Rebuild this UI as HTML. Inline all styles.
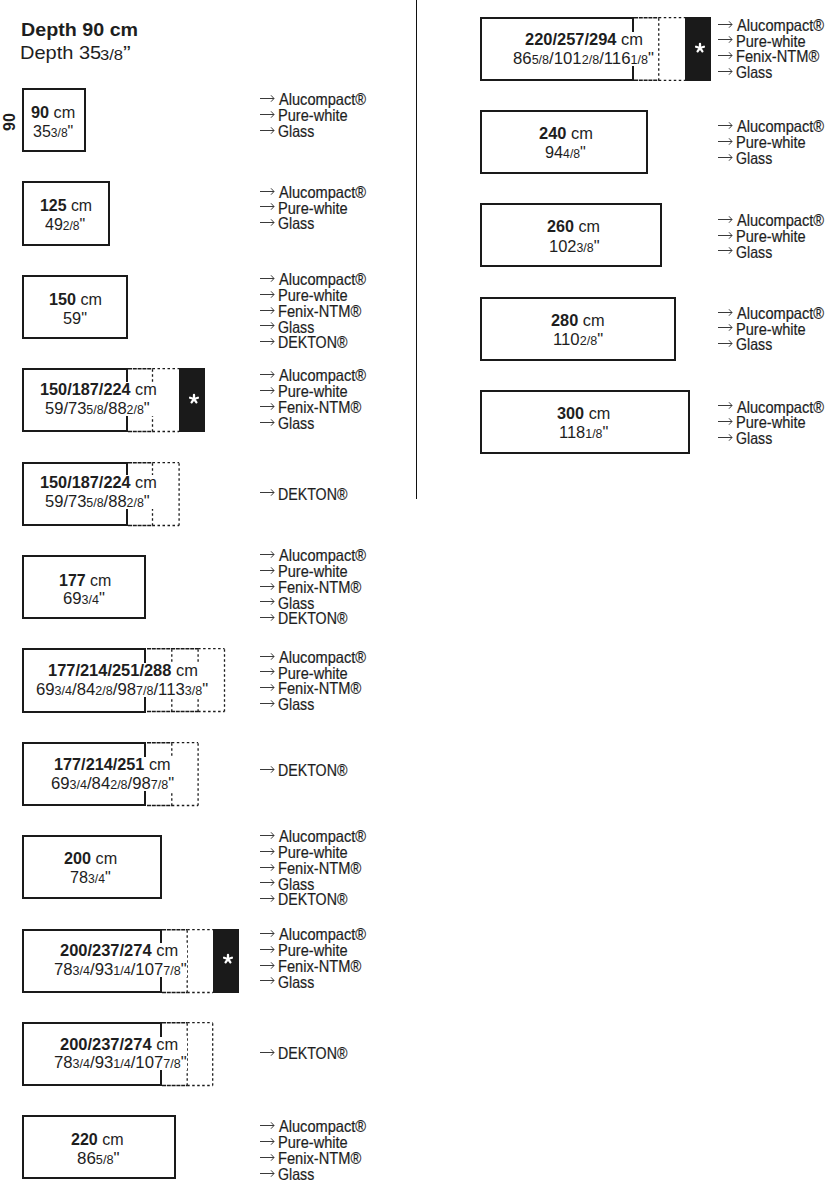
<!DOCTYPE html>
<html><head><meta charset="utf-8"><style>
html,body{margin:0;padding:0;background:#fff;}
body{width:836px;height:1186px;position:relative;overflow:hidden;font-family:"Liberation Sans",sans-serif;color:#1e1e1e;}
.bx{position:absolute;box-sizing:border-box;border:2px solid #1a1a1a;}
.dh{position:absolute;height:0;border-top:1.5px dashed #1a1a1a;}
.dv{position:absolute;width:0;border-left:1.5px dashed #1a1a1a;}
.wb{position:absolute;background:#fff;}
.blk{position:absolute;background:#1a1a1a;}
.ast,.ar,.ln{position:absolute;display:block;}
.t,.o,.hb{position:absolute;white-space:nowrap;transform-origin:0 0;}
.o{-webkit-text-stroke:0.2px #1e1e1e;}
.hb{font-weight:bold;}
small{font-size:75%;}
.rot{position:absolute;font-size:16px;font-weight:bold;line-height:16px;transform:rotate(-90deg);transform-origin:0 0;}
.vl{position:absolute;left:415.5px;top:0;width:1.5px;height:499px;background:#111;}
</style></head><body>
<div class="vl"></div>
<div class="rot" style="left:2px;top:131px">90</div>
<div class="bx" style="left:22.1px;top:88.1px;width:64.40px;height:64.2px"></div>
<div class="wb" style="left:30.7px;top:105.4px;width:45.7px;height:33.5px"></div>
<div class="t" style="left:31.18px;top:105.46px;font-size:16px;line-height:16px;transform:scaleX(1.0167)"><b>90</b> cm</div>
<div class="t" style="left:32.60px;top:124.26px;font-size:16px;line-height:16px;transform:scaleX(1.0026)">35<small>3/8</small>"</div>
<svg class="ar" style="left:260px;top:94px" width="15" height="9" viewBox="0 0 15 9"><path d="M0 4.5H14M11 1.3L14 4.5L11 7.7" fill="none" stroke="#3a3a3a" stroke-width="1"/></svg>
<div class="o" style="left:278.80px;top:91.33px;font-size:16.5px;line-height:16.5px;transform:scaleX(0.8857)">Alucompact&reg;</div>
<svg class="ar" style="left:260px;top:110px" width="15" height="9" viewBox="0 0 15 9"><path d="M0 4.5H14M11 1.3L14 4.5L11 7.7" fill="none" stroke="#3a3a3a" stroke-width="1"/></svg>
<div class="o" style="left:277.92px;top:107.13px;font-size:16.5px;line-height:16.5px;transform:scaleX(0.8831)">Pure-white</div>
<svg class="ar" style="left:260px;top:126px" width="15" height="9" viewBox="0 0 15 9"><path d="M0 4.5H14M11 1.3L14 4.5L11 7.7" fill="none" stroke="#3a3a3a" stroke-width="1"/></svg>
<div class="o" style="left:277.94px;top:122.93px;font-size:16.5px;line-height:16.5px;transform:scaleX(0.8585)">Glass</div>
<div class="bx" style="left:22.1px;top:181.48px;width:88.00px;height:64.2px"></div>
<div class="wb" style="left:39.0px;top:198.1px;width:53.6px;height:34.0px"></div>
<div class="t" style="left:39.51px;top:198.16px;font-size:16px;line-height:16px;transform:scaleX(0.9922)"><b>125</b> cm</div>
<div class="t" style="left:45.20px;top:217.46px;font-size:16px;line-height:16px;transform:scaleX(1.0025)">49<small>2/8</small>"</div>
<svg class="ar" style="left:260px;top:187px" width="15" height="9" viewBox="0 0 15 9"><path d="M0 4.5H14M11 1.3L14 4.5L11 7.7" fill="none" stroke="#3a3a3a" stroke-width="1"/></svg>
<div class="o" style="left:278.80px;top:183.83px;font-size:16.5px;line-height:16.5px;transform:scaleX(0.8857)">Alucompact&reg;</div>
<svg class="ar" style="left:260px;top:202px" width="15" height="9" viewBox="0 0 15 9"><path d="M0 4.5H14M11 1.3L14 4.5L11 7.7" fill="none" stroke="#3a3a3a" stroke-width="1"/></svg>
<div class="o" style="left:277.92px;top:199.63px;font-size:16.5px;line-height:16.5px;transform:scaleX(0.8831)">Pure-white</div>
<svg class="ar" style="left:260px;top:218px" width="15" height="9" viewBox="0 0 15 9"><path d="M0 4.5H14M11 1.3L14 4.5L11 7.7" fill="none" stroke="#3a3a3a" stroke-width="1"/></svg>
<div class="o" style="left:277.94px;top:215.43px;font-size:16.5px;line-height:16.5px;transform:scaleX(0.8585)">Glass</div>
<div class="bx" style="left:22.1px;top:274.86px;width:105.90px;height:64.2px"></div>
<div class="wb" style="left:48.2px;top:292.1px;width:54.5px;height:33.5px"></div>
<div class="t" style="left:48.69px;top:292.16px;font-size:16px;line-height:16px;transform:scaleX(1.0098)"><b>150</b> cm</div>
<div class="t" style="left:62.68px;top:310.96px;font-size:16px;line-height:16px;transform:scaleX(1.0227)">59"</div>
<svg class="ar" style="left:260px;top:274px" width="15" height="9" viewBox="0 0 15 9"><path d="M0 4.5H14M11 1.3L14 4.5L11 7.7" fill="none" stroke="#3a3a3a" stroke-width="1"/></svg>
<div class="o" style="left:278.80px;top:271.23px;font-size:16.5px;line-height:16.5px;transform:scaleX(0.8857)">Alucompact&reg;</div>
<svg class="ar" style="left:260px;top:290px" width="15" height="9" viewBox="0 0 15 9"><path d="M0 4.5H14M11 1.3L14 4.5L11 7.7" fill="none" stroke="#3a3a3a" stroke-width="1"/></svg>
<div class="o" style="left:277.92px;top:287.03px;font-size:16.5px;line-height:16.5px;transform:scaleX(0.8831)">Pure-white</div>
<svg class="ar" style="left:260px;top:306px" width="15" height="9" viewBox="0 0 15 9"><path d="M0 4.5H14M11 1.3L14 4.5L11 7.7" fill="none" stroke="#3a3a3a" stroke-width="1"/></svg>
<div class="o" style="left:277.91px;top:302.83px;font-size:16.5px;line-height:16.5px;transform:scaleX(0.8880)">Fenix-NTM&reg;</div>
<svg class="ar" style="left:260px;top:321px" width="15" height="9" viewBox="0 0 15 9"><path d="M0 4.5H14M11 1.3L14 4.5L11 7.7" fill="none" stroke="#3a3a3a" stroke-width="1"/></svg>
<div class="o" style="left:277.94px;top:318.63px;font-size:16.5px;line-height:16.5px;transform:scaleX(0.8585)">Glass</div>
<svg class="ar" style="left:260px;top:337px" width="15" height="9" viewBox="0 0 15 9"><path d="M0 4.5H14M11 1.3L14 4.5L11 7.7" fill="none" stroke="#3a3a3a" stroke-width="1"/></svg>
<div class="o" style="left:277.94px;top:334.43px;font-size:16.5px;line-height:16.5px;transform:scaleX(0.8608)">DEKTON&reg;</div>
<div class="bx" style="left:22.1px;top:368.24px;width:105.90px;height:64.2px"></div>
<svg class="ln" style="left:126.00px;top:367.24px" width="56.10" height="66.20"><g fill="none" stroke="#1a1a1a"><path d="M2.00 1.70H26.50M2.00 64.50H26.50" stroke-width="1.4" stroke-dasharray="4 0.8"/><path d="M26.50 1.70H53.10M26.50 64.50H53.10" stroke-width="1.3" stroke-dasharray="2.5 2.5"/><path d="M26.50 2.20V64.50" stroke-width="1.3" stroke-dasharray="2.5 2.5"/></g></svg>
<div class="wb" style="left:39.9px;top:382.2px;width:118.0px;height:33.7px"></div>
<div class="blk" style="left:179.1px;top:368.24px;width:26.0px;height:64.2px"></div>
<svg class="ast" style="left:187.00px;top:392.04px" width="14" height="14" viewBox="-7 -7 14 14"><g stroke="#fff" stroke-width="2.3" stroke-linecap="round"><path d="M0 0V-4.1"/><path d="M0 0V-4.1" transform="rotate(72)"/><path d="M0 0V-4.1" transform="rotate(144)"/><path d="M0 0V-4.1" transform="rotate(216)"/><path d="M0 0V-4.1" transform="rotate(288)"/></g></svg>
<div class="t" style="left:40.38px;top:382.26px;font-size:16px;line-height:16px;transform:scaleX(1.0177)"><b>150/187/224</b> cm</div>
<div class="t" style="left:45.37px;top:401.26px;font-size:16px;line-height:16px;transform:scaleX(1.0330)">59/73<small>5/8</small>/88<small>2/8</small>"</div>
<svg class="ar" style="left:260px;top:370px" width="15" height="9" viewBox="0 0 15 9"><path d="M0 4.5H14M11 1.3L14 4.5L11 7.7" fill="none" stroke="#3a3a3a" stroke-width="1"/></svg>
<div class="o" style="left:278.80px;top:367.33px;font-size:16.5px;line-height:16.5px;transform:scaleX(0.8857)">Alucompact&reg;</div>
<svg class="ar" style="left:260px;top:386px" width="15" height="9" viewBox="0 0 15 9"><path d="M0 4.5H14M11 1.3L14 4.5L11 7.7" fill="none" stroke="#3a3a3a" stroke-width="1"/></svg>
<div class="o" style="left:277.92px;top:383.13px;font-size:16.5px;line-height:16.5px;transform:scaleX(0.8831)">Pure-white</div>
<svg class="ar" style="left:260px;top:402px" width="15" height="9" viewBox="0 0 15 9"><path d="M0 4.5H14M11 1.3L14 4.5L11 7.7" fill="none" stroke="#3a3a3a" stroke-width="1"/></svg>
<div class="o" style="left:277.91px;top:398.93px;font-size:16.5px;line-height:16.5px;transform:scaleX(0.8880)">Fenix-NTM&reg;</div>
<svg class="ar" style="left:260px;top:418px" width="15" height="9" viewBox="0 0 15 9"><path d="M0 4.5H14M11 1.3L14 4.5L11 7.7" fill="none" stroke="#3a3a3a" stroke-width="1"/></svg>
<div class="o" style="left:277.94px;top:414.73px;font-size:16.5px;line-height:16.5px;transform:scaleX(0.8585)">Glass</div>
<div class="bx" style="left:22.1px;top:461.62px;width:105.90px;height:64.2px"></div>
<svg class="ln" style="left:126.00px;top:460.62px" width="56.10" height="66.20"><g fill="none" stroke="#1a1a1a"><path d="M2.00 1.70H26.50M2.00 64.50H26.50" stroke-width="1.4" stroke-dasharray="4 0.8"/><path d="M26.50 1.70H53.10M26.50 64.50H53.10" stroke-width="1.3" stroke-dasharray="2.5 2.5"/><path d="M26.50 2.20V64.50" stroke-width="1.3" stroke-dasharray="2.5 2.5"/><path d="M53.10 2.20V64.50" stroke-width="1.3" stroke-dasharray="2.5 2.5"/></g></svg>
<div class="wb" style="left:39.9px;top:475.4px;width:118.0px;height:33.5px"></div>
<div class="t" style="left:40.38px;top:475.46px;font-size:16px;line-height:16px;transform:scaleX(1.0177)"><b>150/187/224</b> cm</div>
<div class="t" style="left:45.37px;top:494.26px;font-size:16px;line-height:16px;transform:scaleX(1.0330)">59/73<small>5/8</small>/88<small>2/8</small>"</div>
<svg class="ar" style="left:260px;top:488px" width="15" height="9" viewBox="0 0 15 9"><path d="M0 4.5H14M11 1.3L14 4.5L11 7.7" fill="none" stroke="#3a3a3a" stroke-width="1"/></svg>
<div class="o" style="left:277.94px;top:485.53px;font-size:16.5px;line-height:16.5px;transform:scaleX(0.8608)">DEKTON&reg;</div>
<div class="bx" style="left:22.1px;top:555.0px;width:124.40px;height:64.2px"></div>
<div class="wb" style="left:58.8px;top:572.5px;width:53.9px;height:33.5px"></div>
<div class="t" style="left:59.30px;top:572.56px;font-size:16px;line-height:16px;transform:scaleX(0.9980)"><b>177</b> cm</div>
<div class="t" style="left:63.46px;top:591.36px;font-size:16px;line-height:16px;transform:scaleX(1.0436)">69<small>3/4</small>"</div>
<svg class="ar" style="left:260px;top:550px" width="15" height="9" viewBox="0 0 15 9"><path d="M0 4.5H14M11 1.3L14 4.5L11 7.7" fill="none" stroke="#3a3a3a" stroke-width="1"/></svg>
<div class="o" style="left:278.80px;top:547.13px;font-size:16.5px;line-height:16.5px;transform:scaleX(0.8857)">Alucompact&reg;</div>
<svg class="ar" style="left:260px;top:566px" width="15" height="9" viewBox="0 0 15 9"><path d="M0 4.5H14M11 1.3L14 4.5L11 7.7" fill="none" stroke="#3a3a3a" stroke-width="1"/></svg>
<div class="o" style="left:277.92px;top:562.93px;font-size:16.5px;line-height:16.5px;transform:scaleX(0.8831)">Pure-white</div>
<svg class="ar" style="left:260px;top:582px" width="15" height="9" viewBox="0 0 15 9"><path d="M0 4.5H14M11 1.3L14 4.5L11 7.7" fill="none" stroke="#3a3a3a" stroke-width="1"/></svg>
<div class="o" style="left:277.91px;top:578.73px;font-size:16.5px;line-height:16.5px;transform:scaleX(0.8880)">Fenix-NTM&reg;</div>
<svg class="ar" style="left:260px;top:597px" width="15" height="9" viewBox="0 0 15 9"><path d="M0 4.5H14M11 1.3L14 4.5L11 7.7" fill="none" stroke="#3a3a3a" stroke-width="1"/></svg>
<div class="o" style="left:277.94px;top:594.53px;font-size:16.5px;line-height:16.5px;transform:scaleX(0.8585)">Glass</div>
<svg class="ar" style="left:260px;top:613px" width="15" height="9" viewBox="0 0 15 9"><path d="M0 4.5H14M11 1.3L14 4.5L11 7.7" fill="none" stroke="#3a3a3a" stroke-width="1"/></svg>
<div class="o" style="left:277.94px;top:610.33px;font-size:16.5px;line-height:16.5px;transform:scaleX(0.8608)">DEKTON&reg;</div>
<div class="bx" style="left:22.1px;top:648.38px;width:124.40px;height:64.2px"></div>
<svg class="ln" style="left:144.50px;top:647.38px" width="82.50" height="66.20"><g fill="none" stroke="#1a1a1a"><path d="M2.00 1.70H53.10M2.00 64.50H53.10" stroke-width="1.4" stroke-dasharray="4 0.8"/><path d="M53.10 1.70H79.50M53.10 64.50H79.50" stroke-width="1.3" stroke-dasharray="2.5 2.5"/><path d="M26.80 2.20V64.50" stroke-width="1.3" stroke-dasharray="2.5 2.5"/><path d="M53.10 2.20V64.50" stroke-width="1.3" stroke-dasharray="2.5 2.5"/><path d="M79.50 2.20V64.50" stroke-width="1.3" stroke-dasharray="2.5 2.5"/></g></svg>
<div class="wb" style="left:35.9px;top:662.9px;width:173.4px;height:34.2px"></div>
<div class="t" style="left:48.07px;top:662.96px;font-size:16px;line-height:16px;transform:scaleX(1.0271)"><b>177/214/251/288</b> cm</div>
<div class="t" style="left:36.35px;top:682.46px;font-size:16px;line-height:16px;transform:scaleX(1.0454)">69<small>3/4</small>/84<small>2/8</small>/98<small>7/8</small>/113<small>3/8</small>"</div>
<svg class="ar" style="left:260px;top:652px" width="15" height="9" viewBox="0 0 15 9"><path d="M0 4.5H14M11 1.3L14 4.5L11 7.7" fill="none" stroke="#3a3a3a" stroke-width="1"/></svg>
<div class="o" style="left:278.80px;top:648.83px;font-size:16.5px;line-height:16.5px;transform:scaleX(0.8857)">Alucompact&reg;</div>
<svg class="ar" style="left:260px;top:667px" width="15" height="9" viewBox="0 0 15 9"><path d="M0 4.5H14M11 1.3L14 4.5L11 7.7" fill="none" stroke="#3a3a3a" stroke-width="1"/></svg>
<div class="o" style="left:277.92px;top:664.63px;font-size:16.5px;line-height:16.5px;transform:scaleX(0.8831)">Pure-white</div>
<svg class="ar" style="left:260px;top:683px" width="15" height="9" viewBox="0 0 15 9"><path d="M0 4.5H14M11 1.3L14 4.5L11 7.7" fill="none" stroke="#3a3a3a" stroke-width="1"/></svg>
<div class="o" style="left:277.91px;top:680.43px;font-size:16.5px;line-height:16.5px;transform:scaleX(0.8880)">Fenix-NTM&reg;</div>
<svg class="ar" style="left:260px;top:699px" width="15" height="9" viewBox="0 0 15 9"><path d="M0 4.5H14M11 1.3L14 4.5L11 7.7" fill="none" stroke="#3a3a3a" stroke-width="1"/></svg>
<div class="o" style="left:277.94px;top:696.23px;font-size:16.5px;line-height:16.5px;transform:scaleX(0.8585)">Glass</div>
<div class="bx" style="left:22.1px;top:741.76px;width:124.40px;height:64.2px"></div>
<svg class="ln" style="left:144.50px;top:740.76px" width="56.10" height="66.20"><g fill="none" stroke="#1a1a1a"><path d="M2.00 1.70H26.80M2.00 64.50H26.80" stroke-width="1.4" stroke-dasharray="4 0.8"/><path d="M26.80 1.70H53.10M26.80 64.50H53.10" stroke-width="1.3" stroke-dasharray="2.5 2.5"/><path d="M26.80 2.20V64.50" stroke-width="1.3" stroke-dasharray="2.5 2.5"/><path d="M53.10 2.20V64.50" stroke-width="1.3" stroke-dasharray="2.5 2.5"/></g></svg>
<div class="wb" style="left:50.7px;top:757.4px;width:124.0px;height:33.2px"></div>
<div class="t" style="left:54.28px;top:757.46px;font-size:16px;line-height:16px;transform:scaleX(1.0159)"><b>177/214/251</b> cm</div>
<div class="t" style="left:51.16px;top:775.96px;font-size:16px;line-height:16px;transform:scaleX(1.0431)">69<small>3/4</small>/84<small>2/8</small>/98<small>7/8</small>"</div>
<svg class="ar" style="left:260px;top:765px" width="15" height="9" viewBox="0 0 15 9"><path d="M0 4.5H14M11 1.3L14 4.5L11 7.7" fill="none" stroke="#3a3a3a" stroke-width="1"/></svg>
<div class="o" style="left:277.94px;top:762.33px;font-size:16.5px;line-height:16.5px;transform:scaleX(0.8608)">DEKTON&reg;</div>
<div class="bx" style="left:22.1px;top:835.14px;width:140.20px;height:64.2px"></div>
<div class="wb" style="left:63.8px;top:851.3px;width:54.7px;height:33.5px"></div>
<div class="t" style="left:64.29px;top:851.36px;font-size:16px;line-height:16px;transform:scaleX(1.0137)"><b>200</b> cm</div>
<div class="t" style="left:70.49px;top:870.16px;font-size:16px;line-height:16px;transform:scaleX(1.0128)">78<small>3/4</small>"</div>
<svg class="ar" style="left:260px;top:831px" width="15" height="9" viewBox="0 0 15 9"><path d="M0 4.5H14M11 1.3L14 4.5L11 7.7" fill="none" stroke="#3a3a3a" stroke-width="1"/></svg>
<div class="o" style="left:278.80px;top:828.13px;font-size:16.5px;line-height:16.5px;transform:scaleX(0.8857)">Alucompact&reg;</div>
<svg class="ar" style="left:260px;top:847px" width="15" height="9" viewBox="0 0 15 9"><path d="M0 4.5H14M11 1.3L14 4.5L11 7.7" fill="none" stroke="#3a3a3a" stroke-width="1"/></svg>
<div class="o" style="left:277.92px;top:843.93px;font-size:16.5px;line-height:16.5px;transform:scaleX(0.8831)">Pure-white</div>
<svg class="ar" style="left:260px;top:863px" width="15" height="9" viewBox="0 0 15 9"><path d="M0 4.5H14M11 1.3L14 4.5L11 7.7" fill="none" stroke="#3a3a3a" stroke-width="1"/></svg>
<div class="o" style="left:277.91px;top:859.73px;font-size:16.5px;line-height:16.5px;transform:scaleX(0.8880)">Fenix-NTM&reg;</div>
<svg class="ar" style="left:260px;top:878px" width="15" height="9" viewBox="0 0 15 9"><path d="M0 4.5H14M11 1.3L14 4.5L11 7.7" fill="none" stroke="#3a3a3a" stroke-width="1"/></svg>
<div class="o" style="left:277.94px;top:875.53px;font-size:16.5px;line-height:16.5px;transform:scaleX(0.8585)">Glass</div>
<svg class="ar" style="left:260px;top:894px" width="15" height="9" viewBox="0 0 15 9"><path d="M0 4.5H14M11 1.3L14 4.5L11 7.7" fill="none" stroke="#3a3a3a" stroke-width="1"/></svg>
<div class="o" style="left:277.94px;top:891.33px;font-size:16.5px;line-height:16.5px;transform:scaleX(0.8608)">DEKTON&reg;</div>
<div class="bx" style="left:22.1px;top:928.52px;width:140.20px;height:64.2px"></div>
<svg class="ln" style="left:160.30px;top:927.52px" width="56.00" height="66.20"><g fill="none" stroke="#1a1a1a"><path d="M2.00 1.70H27.20M2.00 64.50H27.20" stroke-width="1.4" stroke-dasharray="4 0.8"/><path d="M27.20 1.70H53.00M27.20 64.50H53.00" stroke-width="1.3" stroke-dasharray="2.5 2.5"/><path d="M27.20 2.20V64.50" stroke-width="1.3" stroke-dasharray="2.5 2.5"/></g></svg>
<div class="wb" style="left:53.1px;top:943.2px;width:133.6px;height:33.6px"></div>
<div class="blk" style="left:213.3px;top:928.52px;width:25.899999999999977px;height:64.2px"></div>
<svg class="ast" style="left:221.15px;top:952.32px" width="14" height="14" viewBox="-7 -7 14 14"><g stroke="#fff" stroke-width="2.3" stroke-linecap="round"><path d="M0 0V-4.1"/><path d="M0 0V-4.1" transform="rotate(72)"/><path d="M0 0V-4.1" transform="rotate(144)"/><path d="M0 0V-4.1" transform="rotate(216)"/><path d="M0 0V-4.1" transform="rotate(288)"/></g></svg>
<div class="t" style="left:60.37px;top:943.26px;font-size:16px;line-height:16px;transform:scaleX(1.0292)"><b>200/237/274</b> cm</div>
<div class="t" style="left:53.56px;top:962.16px;font-size:16px;line-height:16px;transform:scaleX(1.0448)">78<small>3/4</small>/93<small>1/4</small>/107<small>7/8</small>"</div>
<svg class="ar" style="left:260px;top:929px" width="15" height="9" viewBox="0 0 15 9"><path d="M0 4.5H14M11 1.3L14 4.5L11 7.7" fill="none" stroke="#3a3a3a" stroke-width="1"/></svg>
<div class="o" style="left:278.80px;top:926.13px;font-size:16.5px;line-height:16.5px;transform:scaleX(0.8857)">Alucompact&reg;</div>
<svg class="ar" style="left:260px;top:945px" width="15" height="9" viewBox="0 0 15 9"><path d="M0 4.5H14M11 1.3L14 4.5L11 7.7" fill="none" stroke="#3a3a3a" stroke-width="1"/></svg>
<div class="o" style="left:277.92px;top:941.93px;font-size:16.5px;line-height:16.5px;transform:scaleX(0.8831)">Pure-white</div>
<svg class="ar" style="left:260px;top:961px" width="15" height="9" viewBox="0 0 15 9"><path d="M0 4.5H14M11 1.3L14 4.5L11 7.7" fill="none" stroke="#3a3a3a" stroke-width="1"/></svg>
<div class="o" style="left:277.91px;top:957.73px;font-size:16.5px;line-height:16.5px;transform:scaleX(0.8880)">Fenix-NTM&reg;</div>
<svg class="ar" style="left:260px;top:976px" width="15" height="9" viewBox="0 0 15 9"><path d="M0 4.5H14M11 1.3L14 4.5L11 7.7" fill="none" stroke="#3a3a3a" stroke-width="1"/></svg>
<div class="o" style="left:277.94px;top:973.53px;font-size:16.5px;line-height:16.5px;transform:scaleX(0.8585)">Glass</div>
<div class="bx" style="left:22.1px;top:1021.9px;width:140.20px;height:64.2px"></div>
<svg class="ln" style="left:160.30px;top:1020.90px" width="55.70" height="66.20"><g fill="none" stroke="#1a1a1a"><path d="M2.00 1.70H27.20M2.00 64.50H27.20" stroke-width="1.4" stroke-dasharray="4 0.8"/><path d="M27.20 1.70H52.70M27.20 64.50H52.70" stroke-width="1.3" stroke-dasharray="2.5 2.5"/><path d="M27.20 2.20V64.50" stroke-width="1.3" stroke-dasharray="2.5 2.5"/><path d="M52.70 2.20V64.50" stroke-width="1.3" stroke-dasharray="2.5 2.5"/></g></svg>
<div class="wb" style="left:53.1px;top:1036.5px;width:133.6px;height:33.5px"></div>
<div class="t" style="left:60.37px;top:1036.56px;font-size:16px;line-height:16px;transform:scaleX(1.0292)"><b>200/237/274</b> cm</div>
<div class="t" style="left:53.56px;top:1055.36px;font-size:16px;line-height:16px;transform:scaleX(1.0448)">78<small>3/4</small>/93<small>1/4</small>/107<small>7/8</small>"</div>
<svg class="ar" style="left:260px;top:1048px" width="15" height="9" viewBox="0 0 15 9"><path d="M0 4.5H14M11 1.3L14 4.5L11 7.7" fill="none" stroke="#3a3a3a" stroke-width="1"/></svg>
<div class="o" style="left:277.94px;top:1045.43px;font-size:16.5px;line-height:16.5px;transform:scaleX(0.8608)">DEKTON&reg;</div>
<div class="bx" style="left:22.1px;top:1115.28px;width:154.20px;height:64.2px"></div>
<div class="wb" style="left:70.6px;top:1132.1px;width:54.1px;height:33.3px"></div>
<div class="t" style="left:71.10px;top:1132.16px;font-size:16px;line-height:16px;transform:scaleX(1.0020)"><b>220</b> cm</div>
<div class="t" style="left:76.74px;top:1150.76px;font-size:16px;line-height:16px;transform:scaleX(1.0590)">86<small>5/8</small>"</div>
<svg class="ar" style="left:260px;top:1121px" width="15" height="9" viewBox="0 0 15 9"><path d="M0 4.5H14M11 1.3L14 4.5L11 7.7" fill="none" stroke="#3a3a3a" stroke-width="1"/></svg>
<div class="o" style="left:278.80px;top:1118.33px;font-size:16.5px;line-height:16.5px;transform:scaleX(0.8857)">Alucompact&reg;</div>
<svg class="ar" style="left:260px;top:1137px" width="15" height="9" viewBox="0 0 15 9"><path d="M0 4.5H14M11 1.3L14 4.5L11 7.7" fill="none" stroke="#3a3a3a" stroke-width="1"/></svg>
<div class="o" style="left:277.92px;top:1134.13px;font-size:16.5px;line-height:16.5px;transform:scaleX(0.8831)">Pure-white</div>
<svg class="ar" style="left:260px;top:1153px" width="15" height="9" viewBox="0 0 15 9"><path d="M0 4.5H14M11 1.3L14 4.5L11 7.7" fill="none" stroke="#3a3a3a" stroke-width="1"/></svg>
<div class="o" style="left:277.91px;top:1149.93px;font-size:16.5px;line-height:16.5px;transform:scaleX(0.8880)">Fenix-NTM&reg;</div>
<svg class="ar" style="left:260px;top:1169px" width="15" height="9" viewBox="0 0 15 9"><path d="M0 4.5H14M11 1.3L14 4.5L11 7.7" fill="none" stroke="#3a3a3a" stroke-width="1"/></svg>
<div class="o" style="left:277.94px;top:1165.73px;font-size:16.5px;line-height:16.5px;transform:scaleX(0.8585)">Glass</div>
<div class="bx" style="left:480.1px;top:16.85px;width:153.90px;height:64.0px"></div>
<svg class="ln" style="left:632.00px;top:15.85px" width="56.00" height="66.00"><g fill="none" stroke="#1a1a1a"><path d="M2.00 1.70H26.75M2.00 64.30H26.75" stroke-width="1.4" stroke-dasharray="4 0.8"/><path d="M26.75 1.70H53.00M26.75 64.30H53.00" stroke-width="1.3" stroke-dasharray="2.5 2.5"/><path d="M26.75 2.20V64.30" stroke-width="1.3" stroke-dasharray="2.5 2.5"/></g></svg>
<div class="wb" style="left:512.1px;top:32.3px;width:142.2px;height:33.3px"></div>
<div class="blk" style="left:685px;top:16.85px;width:25.799999999999955px;height:64.0px"></div>
<svg class="ast" style="left:692.80px;top:40.55px" width="14" height="14" viewBox="-7 -7 14 14"><g stroke="#fff" stroke-width="2.3" stroke-linecap="round"><path d="M0 0V-4.1"/><path d="M0 0V-4.1" transform="rotate(72)"/><path d="M0 0V-4.1" transform="rotate(144)"/><path d="M0 0V-4.1" transform="rotate(216)"/><path d="M0 0V-4.1" transform="rotate(288)"/></g></svg>
<div class="t" style="left:524.67px;top:32.36px;font-size:16px;line-height:16px;transform:scaleX(1.0274)"><b>220/257/294</b> cm</div>
<div class="t" style="left:512.55px;top:50.96px;font-size:16px;line-height:16px;transform:scaleX(1.0466)">86<small>5/8</small>/101<small>2/8</small>/116<small>1/8</small>"</div>
<svg class="ar" style="left:717.8px;top:20px" width="15" height="9" viewBox="0 0 15 9"><path d="M0 4.5H14M11 1.3L14 4.5L11 7.7" fill="none" stroke="#3a3a3a" stroke-width="1"/></svg>
<div class="o" style="left:736.70px;top:16.73px;font-size:16.5px;line-height:16.5px;transform:scaleX(0.8857)">Alucompact&reg;</div>
<svg class="ar" style="left:717.8px;top:35px" width="15" height="9" viewBox="0 0 15 9"><path d="M0 4.5H14M11 1.3L14 4.5L11 7.7" fill="none" stroke="#3a3a3a" stroke-width="1"/></svg>
<div class="o" style="left:735.82px;top:32.53px;font-size:16.5px;line-height:16.5px;transform:scaleX(0.8831)">Pure-white</div>
<svg class="ar" style="left:717.8px;top:51px" width="15" height="9" viewBox="0 0 15 9"><path d="M0 4.5H14M11 1.3L14 4.5L11 7.7" fill="none" stroke="#3a3a3a" stroke-width="1"/></svg>
<div class="o" style="left:735.81px;top:48.33px;font-size:16.5px;line-height:16.5px;transform:scaleX(0.8880)">Fenix-NTM&reg;</div>
<svg class="ar" style="left:717.8px;top:67px" width="15" height="9" viewBox="0 0 15 9"><path d="M0 4.5H14M11 1.3L14 4.5L11 7.7" fill="none" stroke="#3a3a3a" stroke-width="1"/></svg>
<div class="o" style="left:735.84px;top:64.13px;font-size:16.5px;line-height:16.5px;transform:scaleX(0.8585)">Glass</div>
<div class="bx" style="left:480.1px;top:110.11px;width:167.90px;height:64.0px"></div>
<div class="wb" style="left:538.6px;top:125.9px;width:55.3px;height:33.9px"></div>
<div class="t" style="left:539.07px;top:125.96px;font-size:16px;line-height:16px;transform:scaleX(1.0255)"><b>240</b> cm</div>
<div class="t" style="left:545.08px;top:145.16px;font-size:16px;line-height:16px;transform:scaleX(1.0179)">94<small>4/8</small>"</div>
<svg class="ar" style="left:717.8px;top:121px" width="15" height="9" viewBox="0 0 15 9"><path d="M0 4.5H14M11 1.3L14 4.5L11 7.7" fill="none" stroke="#3a3a3a" stroke-width="1"/></svg>
<div class="o" style="left:736.70px;top:118.23px;font-size:16.5px;line-height:16.5px;transform:scaleX(0.8857)">Alucompact&reg;</div>
<svg class="ar" style="left:717.8px;top:137px" width="15" height="9" viewBox="0 0 15 9"><path d="M0 4.5H14M11 1.3L14 4.5L11 7.7" fill="none" stroke="#3a3a3a" stroke-width="1"/></svg>
<div class="o" style="left:735.82px;top:134.03px;font-size:16.5px;line-height:16.5px;transform:scaleX(0.8831)">Pure-white</div>
<svg class="ar" style="left:717.8px;top:153px" width="15" height="9" viewBox="0 0 15 9"><path d="M0 4.5H14M11 1.3L14 4.5L11 7.7" fill="none" stroke="#3a3a3a" stroke-width="1"/></svg>
<div class="o" style="left:735.84px;top:149.83px;font-size:16.5px;line-height:16.5px;transform:scaleX(0.8585)">Glass</div>
<div class="bx" style="left:480.1px;top:203.37px;width:181.70px;height:64.0px"></div>
<div class="wb" style="left:546.2px;top:219.3px;width:54.4px;height:34.1px"></div>
<div class="t" style="left:546.69px;top:219.36px;font-size:16px;line-height:16px;transform:scaleX(1.0078)"><b>260</b> cm</div>
<div class="t" style="left:548.67px;top:238.76px;font-size:16px;line-height:16px;transform:scaleX(1.0292)">102<small>3/8</small>"</div>
<svg class="ar" style="left:717.8px;top:215px" width="15" height="9" viewBox="0 0 15 9"><path d="M0 4.5H14M11 1.3L14 4.5L11 7.7" fill="none" stroke="#3a3a3a" stroke-width="1"/></svg>
<div class="o" style="left:736.70px;top:212.03px;font-size:16.5px;line-height:16.5px;transform:scaleX(0.8857)">Alucompact&reg;</div>
<svg class="ar" style="left:717.8px;top:231px" width="15" height="9" viewBox="0 0 15 9"><path d="M0 4.5H14M11 1.3L14 4.5L11 7.7" fill="none" stroke="#3a3a3a" stroke-width="1"/></svg>
<div class="o" style="left:735.82px;top:227.83px;font-size:16.5px;line-height:16.5px;transform:scaleX(0.8831)">Pure-white</div>
<svg class="ar" style="left:717.8px;top:246px" width="15" height="9" viewBox="0 0 15 9"><path d="M0 4.5H14M11 1.3L14 4.5L11 7.7" fill="none" stroke="#3a3a3a" stroke-width="1"/></svg>
<div class="o" style="left:735.84px;top:243.63px;font-size:16.5px;line-height:16.5px;transform:scaleX(0.8585)">Glass</div>
<div class="bx" style="left:480.1px;top:296.63px;width:195.70px;height:64.0px"></div>
<div class="wb" style="left:550.5px;top:313.3px;width:55.0px;height:33.5px"></div>
<div class="t" style="left:550.98px;top:313.36px;font-size:16px;line-height:16px;transform:scaleX(1.0196)"><b>280</b> cm</div>
<div class="t" style="left:553.05px;top:332.16px;font-size:16px;line-height:16px;transform:scaleX(1.0457)">110<small>2/8</small>"</div>
<svg class="ar" style="left:717.8px;top:308px" width="15" height="9" viewBox="0 0 15 9"><path d="M0 4.5H14M11 1.3L14 4.5L11 7.7" fill="none" stroke="#3a3a3a" stroke-width="1"/></svg>
<div class="o" style="left:736.70px;top:304.83px;font-size:16.5px;line-height:16.5px;transform:scaleX(0.8857)">Alucompact&reg;</div>
<svg class="ar" style="left:717.8px;top:323px" width="15" height="9" viewBox="0 0 15 9"><path d="M0 4.5H14M11 1.3L14 4.5L11 7.7" fill="none" stroke="#3a3a3a" stroke-width="1"/></svg>
<div class="o" style="left:735.82px;top:320.63px;font-size:16.5px;line-height:16.5px;transform:scaleX(0.8831)">Pure-white</div>
<svg class="ar" style="left:717.8px;top:339px" width="15" height="9" viewBox="0 0 15 9"><path d="M0 4.5H14M11 1.3L14 4.5L11 7.7" fill="none" stroke="#3a3a3a" stroke-width="1"/></svg>
<div class="o" style="left:735.84px;top:336.43px;font-size:16.5px;line-height:16.5px;transform:scaleX(0.8585)">Glass</div>
<div class="bx" style="left:480.1px;top:389.89px;width:209.70px;height:64.0px"></div>
<div class="wb" style="left:556.1px;top:405.9px;width:54.8px;height:33.9px"></div>
<div class="t" style="left:556.58px;top:405.96px;font-size:16px;line-height:16px;transform:scaleX(1.0157)"><b>300</b> cm</div>
<div class="t" style="left:558.97px;top:425.16px;font-size:16px;line-height:16px;transform:scaleX(1.0304)">118<small>1/8</small>"</div>
<svg class="ar" style="left:717.8px;top:401px" width="15" height="9" viewBox="0 0 15 9"><path d="M0 4.5H14M11 1.3L14 4.5L11 7.7" fill="none" stroke="#3a3a3a" stroke-width="1"/></svg>
<div class="o" style="left:736.70px;top:398.63px;font-size:16.5px;line-height:16.5px;transform:scaleX(0.8857)">Alucompact&reg;</div>
<svg class="ar" style="left:717.8px;top:417px" width="15" height="9" viewBox="0 0 15 9"><path d="M0 4.5H14M11 1.3L14 4.5L11 7.7" fill="none" stroke="#3a3a3a" stroke-width="1"/></svg>
<div class="o" style="left:735.82px;top:414.43px;font-size:16.5px;line-height:16.5px;transform:scaleX(0.8831)">Pure-white</div>
<svg class="ar" style="left:717.8px;top:433px" width="15" height="9" viewBox="0 0 15 9"><path d="M0 4.5H14M11 1.3L14 4.5L11 7.7" fill="none" stroke="#3a3a3a" stroke-width="1"/></svg>
<div class="o" style="left:735.84px;top:430.23px;font-size:16.5px;line-height:16.5px;transform:scaleX(0.8585)">Glass</div>
<div class="hb" style="left:20.94px;top:21.34px;font-size:18.5px;line-height:18.5px;transform:scaleX(1.0648)">Depth 90 cm</div>
<div class="t" style="left:19.64px;top:44.34px;font-size:18.5px;line-height:18.5px;transform:scaleX(1.0819)">Depth 35</div>
<div class="t" style="left:99.72px;top:47.85px;font-size:14px;line-height:14px;transform:scaleX(1.1833)">3/8</div>
<div class="t" style="left:122.86px;top:44.34px;font-size:18.5px;line-height:18.5px;transform:scaleX(1.2400)">&rdquo;</div>
</body></html>
